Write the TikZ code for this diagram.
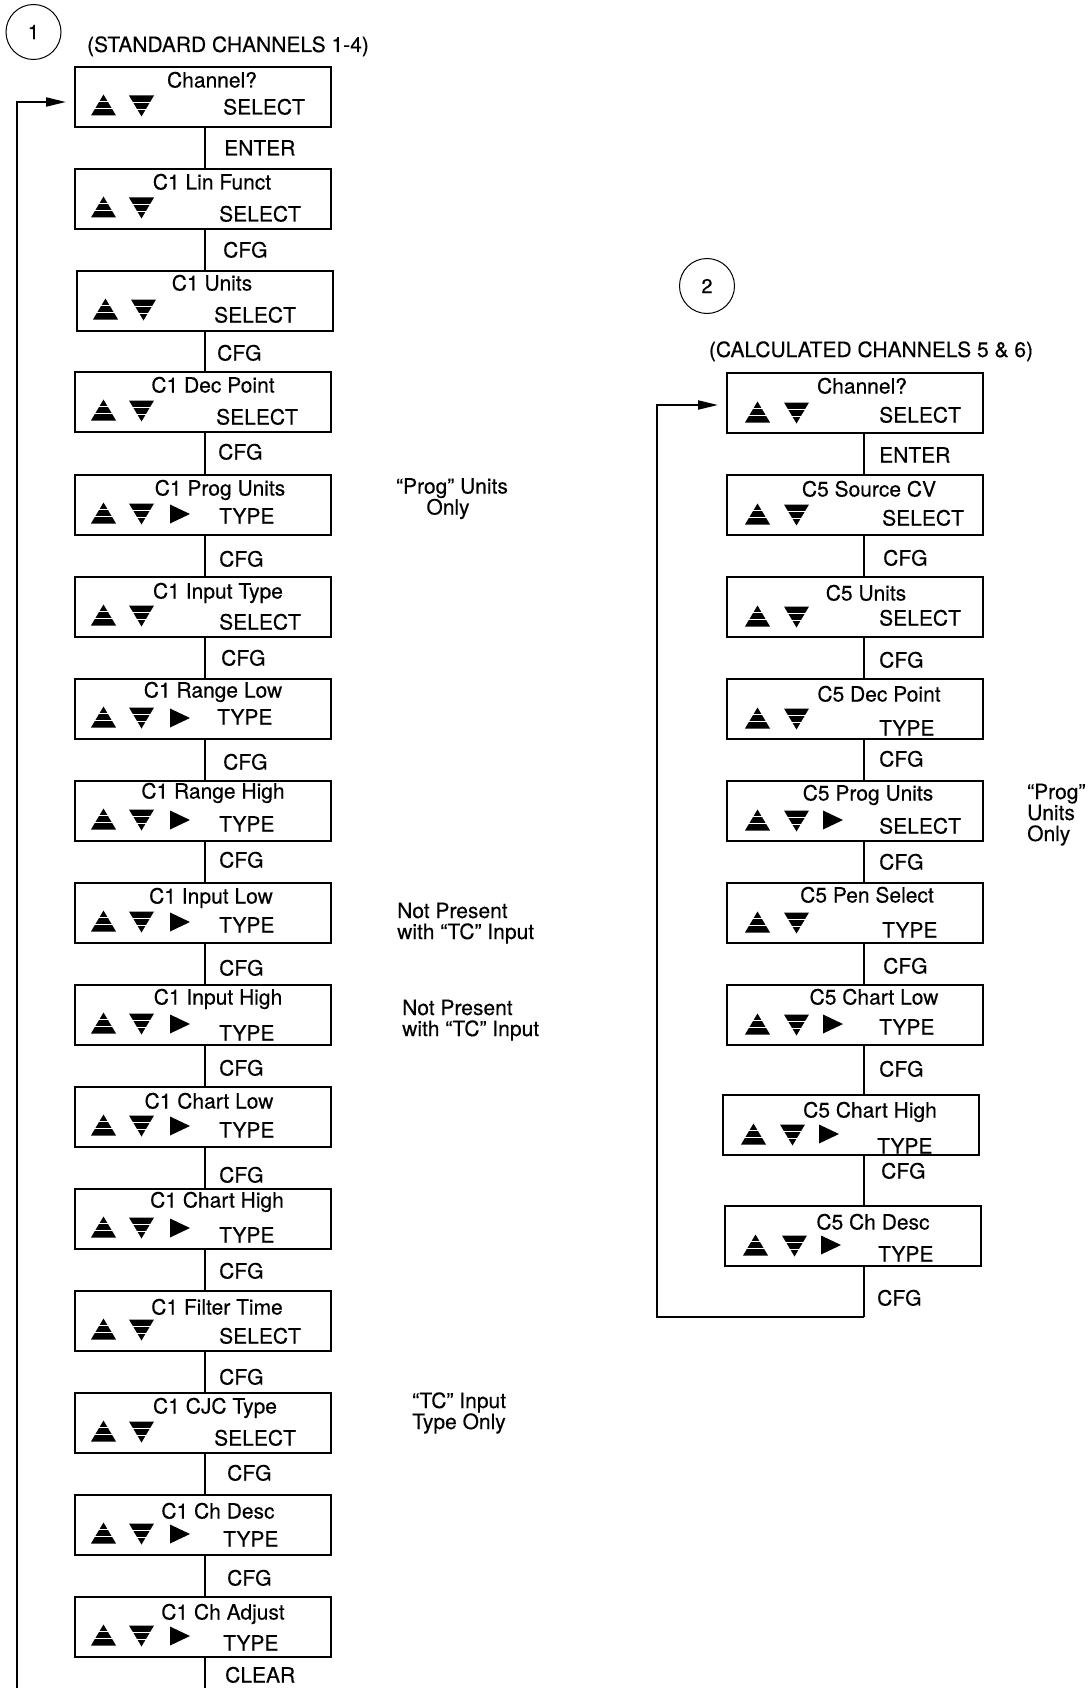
\documentclass[tikz,border=0pt]{standalone}
\usepackage{fontspec}
\setmainfont[UprightFeatures={FakeBold=0.3}]{TeX Gyre Heros}
\usetikzlibrary{arrows.meta}
\tikzset{
  screen/.style={draw, line width=2pt, minimum width=256pt, minimum height=60pt, inner sep=0pt},
  txt/.style={inner sep=0pt, font=\fontsize{21}{21}\selectfont, anchor=base},
  conn/.style={line width=1.3pt},
  loopline/.style={line width=2pt, -{Triangle[length=20pt,width=9pt]}, shorten >=8pt},
  badge/.style={draw, circle, line width=1pt, minimum size=55pt, inner sep=0pt, font=\fontsize{20}{20}\selectfont}
}
\newcommand\upico[2]{%
  \fill (#1-12.5,#2+10.5) -- (#1+12.5,#2+10.5) -- (#1,#2-10.5) -- cycle;
  \draw[white,line width=1.4pt] (#1-13,#2-3.5) -- (#1+13,#2-3.5) (#1-13,#2+3.5) -- (#1+13,#2+3.5);}
\newcommand\downico[2]{%
  \fill (#1-12.5,#2-10.5) -- (#1+12.5,#2-10.5) -- (#1,#2+10.5) -- cycle;
  \draw[white,line width=1.4pt] (#1-13,#2-3.5) -- (#1+13,#2-3.5) (#1-13,#2+3.5) -- (#1+13,#2+3.5);}
\newcommand\rightico[2]{%
  \fill (#1-10,#2-9.5) -- (#1+10,#2) -- (#1-10,#2+9.5) -- cycle;}
\begin{document}
\begin{tikzpicture}[x=1pt,y=-1pt]
\useasboundingbox (0,0) rectangle (1090,1688);

% headers
\node[badge] (c1) at (33.5,32) {1};
\node[txt] (h1) at (228,52) {(STANDARD CHANNELS 1-4)};
\node[badge] (c2) at (707,286) {2};
\node[txt] (h2) at (871,357) {(CALCULATED CHANNELS 5 \& 6)};

% left column screens
\foreach \bn/\bx/\by/\bt/\btx/\btdy/\bl/\blx/\bldy/\bq in {
  1/75/67/Channel?/212/13/SELECT/223/40/0,
  2/75/169/C1 Lin Funct/212/13/SELECT/219/45/0,
  3/77/271/C1 Units/212/12/SELECT/214/44/0,
  4/75/372/C1 Dec Point/213/13/SELECT/216/45/0,
  5/75/475/C1 Prog Units/220/13/TYPE/219/41/1,
  6/75/577/C1 Input Type/218/14/SELECT/219/45/0,
  7/75/679/C1 Range Low/213/11/TYPE/217/38/1,
  8/75/781/C1 Range High/213/10/TYPE/219/43/1,
  9/75/883/C1 Input Low/211/13/TYPE/219/42/1,
  10/75/985/C1 Input High/218/12/TYPE/219/48/1,
  11/75/1087/C1 Chart Low/209/14/TYPE/219/43/1,
  12/75/1189/C1 Chart High/217/11/TYPE/219/46/1,
  13/75/1291/C1 Filter Time/217/16/SELECT/219/45/0,
  14/75/1393/C1 CJC Type/215/13/SELECT/214/45/0,
  15/75/1495/C1 Ch Desc/218/16/TYPE/223/44/1,
  16/75/1597/C1 Ch Adjust/223/15/TYPE/223/46/1} {
  \node[screen] (L\bn) at (\bx+128,\by+30) {};
  \node[txt] (Lt\bn) at (\btx,\by+\btdy+7.5) {\bt};
  \node[txt,anchor=base west] (Lb\bn) at (\blx,\by+\bldy+7.5) {\bl};
  \upico{\bx+28.5}{\by+38}
  \downico{\bx+66.5}{\by+39}
  \ifnum\bq=1 \rightico{\bx+105}{\by+39}\fi
}

% right column screens
\foreach \bn/\bx/\by/\bt/\btx/\btdy/\bl/\blx/\bldy/\bq in {
  1/727/373/Channel?/862/13/SELECT/879/42/0,
  2/727/475/C5 Source CV/869/14/SELECT/882/43/0,
  3/727/577/C5 Units/866/16/SELECT/879/41/0,
  4/727/679/C5 Dec Point/879/15/TYPE/879/49/0,
  5/727/781/C5 Prog Units/868/12/SELECT/879/45/1,
  6/727/883/C5 Pen Select/867/12/TYPE/882/47/0,
  7/727/985/C5 Chart Low/874/12/TYPE/879/42/1,
  8/723/1095/C5 Chart High/870/15/TYPE/877/51/1,
  9/725/1206/C5 Ch Desc/873/16/TYPE/878/48/1} {
  \node[screen] (R\bn) at (\bx+128,\by+30) {};
  \node[txt] (Rt\bn) at (\btx,\by+\btdy+7.5) {\bt};
  \node[txt,anchor=base west] (Rb\bn) at (\blx,\by+\bldy+7.5) {\bl};
  \upico{\bx+30.5}{\by+39}
  \downico{\bx+69.5}{\by+40}
  \ifnum\bq=1 \rightico{\bx+106}{\by+39}\fi
}

% column axes
\coordinate (colL) at (205,0);
\coordinate (colR) at (864,0);

% left connectors
\foreach \i [evaluate=\i as \j using int(\i+1)] in {1,...,15}
  \draw[conn] (L\i.south -| colL) -- (L\j.north -| colL);
\coordinate (Lend) at (205,1688);
\draw[conn] (L16.south -| colL) -- (Lend);

% right connectors
\foreach \i [evaluate=\i as \j using int(\i+1)] in {1,...,8}
  \draw[conn,line width=1.1pt] (R\i.south -| colR) -- (R\j.north -| colR);

% connector labels left
\foreach \k/\yy/\ww/\xx in {
  1/148/ENTER/224, 2/250/CFG/223, 3/353/CFG/217, 4/452/CFG/218,
  5/559/CFG/219, 6/658/CFG/221, 7/762/CFG/223, 8/860/CFG/219,
  9/968/CFG/219, 10/1068/CFG/219, 11/1175/CFG/219, 12/1271/CFG/219,
  13/1377/CFG/219, 14/1473/CFG/227, 15/1578/CFG/227, 16/1675/CLEAR/225}
  \node[txt,anchor=base west] (Lc\k) at (\xx,\yy+7.5) {\ww};

% connector labels right
\foreach \k/\yy/\ww/\xx in {
  1/455/ENTER/879, 2/558/CFG/883, 3/660/CFG/879, 4/759/CFG/879,
  5/862/CFG/879, 6/966/CFG/883, 7/1069/CFG/879, 8/1171/CFG/881, 9/1298/CFG/877}
  \node[txt,anchor=base west] (Rc\k) at (\xx,\yy+7.5) {\ww};

% left loop back
\coordinate (lb) at (17,1688);
\coordinate (lt) at (17,102);
\draw[loopline] (lb) -- (lt) -- (L1.west |- lt);

% right loop back
\coordinate (rb) at (864,1317);
\coordinate (rl) at (657,1317);
\coordinate (rt) at (657,405);
\draw[conn,line width=1.1pt] (R9.south -| colR) -- (rb);
\draw[loopline] (rb) -- (rl) -- (rt) -- (R1.west |- rt);

% side notes
\node[txt] (n1a) at (452,493.5) {“Prog” Units};
\node[txt] (n1b) at (448,514.5) {Only};
\node[txt,anchor=base west] (n2a) at (397,918) {Not Present};
\node[txt,anchor=base west] (n2b) at (397,939) {with “TC” Input};
\node[txt,anchor=base west] (n3a) at (402,1015) {Not Present};
\node[txt,anchor=base west] (n3b) at (402,1036) {with “TC” Input};
\node[txt,anchor=base west] (n4a) at (412,1408) {“TC” Input};
\node[txt,anchor=base west] (n4b) at (412,1429) {Type Only};
\node[txt,anchor=base west] (n5a) at (1027,799) {“Prog”};
\node[txt,anchor=base west] (n5b) at (1027,820) {Units};
\node[txt,anchor=base west] (n5c) at (1027,841) {Only};
\end{tikzpicture}
\end{document}
